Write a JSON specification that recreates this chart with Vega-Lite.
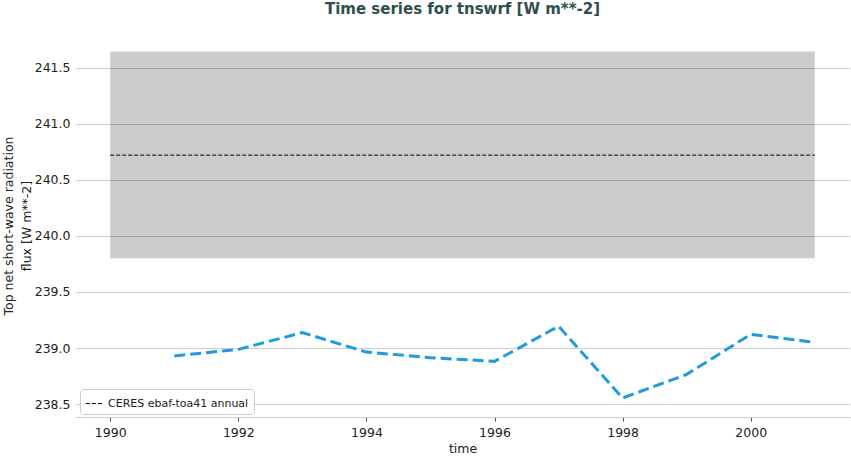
{
  "$schema": "https://vega.github.io/schema/vega-lite/v6.json",
  "width": 775,
  "height": 383,
  "autosize": {"type": "none"},
  "padding": {"left": 75, "top": 34, "right": 1, "bottom": 40},
  "background": "white",
  "title": {"text": "Time series for tnswrf [W m**-2]", "font": "DejaVu Sans", "fontSize": 15, "fontWeight": "bold", "color": "#2f4f4f", "anchor": "middle", "offset": 17},
  "config": {"view": {"stroke": null}, "font": "DejaVu Sans"},
  "layer": [
    {
      "data": {"values": [{"start": 1990, "end": 2001, "lo": 239.80, "hi": 241.643}]},
      "mark": {"type": "rect", "fill": "black", "fillOpacity": 0.2, "strokeWidth": 0},
      "encoding": {
        "x": {"field": "start", "type": "quantitative", "scale": {"domain": [1989.45, 2001.55], "nice": false, "zero": false},
          "axis": {"title": "time", "values": [1990, 1992, 1994, 1996, 1998, 2000], "format": "d", "grid": false, "domainColor": "#cccccc", "tickColor": "#555555", "tickSize": 4, "labelPadding": 5, "labelFontSize": 12.5, "labelColor": "#222222", "titleFontSize": 12.5, "titleFontWeight": "normal", "titleColor": "#222222", "titlePadding": 4}},
        "x2": {"field": "end"},
        "y": {"field": "lo", "type": "quantitative", "scale": {"domain": [238.385, 241.8], "nice": false, "zero": false},
          "axis": {"title": ["Top net short-wave radiation", "flux [W m**-2]"], "values": [238.5, 239.0, 239.5, 240.0, 240.5, 241.0, 241.5], "format": ".1f", "grid": true, "gridColor": "#d0d0d0", "domain": false, "ticks": false, "labelPadding": 5, "labelFontSize": 12.5, "labelColor": "#222222", "titleFontSize": 12.5, "titleFontWeight": "normal", "titleColor": "#222222", "titlePadding": 1, "titleLineHeight": 18}},
        "y2": {"field": "hi"}
      }
    },
    {
      "data": {"values": [{"start": 1990, "end": 2001, "mean": 240.72, "label": "CERES ebaf-toa41 annual"}]},
      "mark": {"type": "rule", "strokeWidth": 1, "strokeDash": [4, 2]},
      "encoding": {
        "x": {"field": "start", "type": "quantitative"},
        "x2": {"field": "end"},
        "y": {"field": "mean", "type": "quantitative"},
        "color": {"field": "label", "type": "nominal", "scale": {"range": ["black"]},
          "legend": {"title": null, "orient": "none", "legendX": 5, "legendY": 355, "fillColor": "rgba(255,255,255,0.85)", "strokeColor": "#cccccc", "cornerRadius": 3, "padding": 5, "symbolType": "stroke", "symbolDash": [4, 2], "symbolStrokeWidth": 1, "symbolSize": 300, "labelFontSize": 11, "labelColor": "#222222"}}
      }
    },
    {
      "data": {"values": [
        {"year": 1991, "value": 238.929},
        {"year": 1992, "value": 238.988},
        {"year": 1993, "value": 239.137},
        {"year": 1994, "value": 238.964},
        {"year": 1995, "value": 238.914},
        {"year": 1996, "value": 238.881},
        {"year": 1997, "value": 239.194},
        {"year": 1998, "value": 238.554},
        {"year": 1999, "value": 238.765},
        {"year": 2000, "value": 239.122},
        {"year": 2001, "value": 239.051}
      ]},
      "mark": {"type": "line", "color": "#1f9be3", "strokeWidth": 3, "strokeDash": [11, 5]},
      "encoding": {
        "x": {"field": "year", "type": "quantitative"},
        "y": {"field": "value", "type": "quantitative"}
      }
    }
  ]
}
